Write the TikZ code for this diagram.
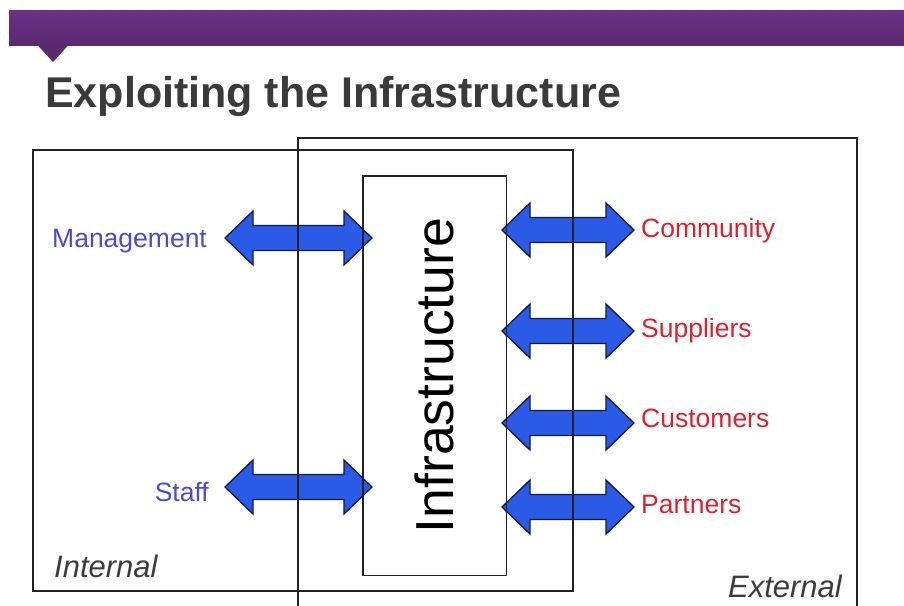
\documentclass[tikz,border=0pt]{standalone}
\usepackage{fontspec}
\setmainfont{Liberation Sans}
\definecolor{bartop}{HTML}{6B3088}
\definecolor{barbot}{HTML}{5A296F}
\definecolor{titlegray}{HTML}{3A3A3A}
\definecolor{arrowblue}{HTML}{2A5AE6}
\definecolor{arrowedge}{HTML}{101A48}
\definecolor{intblue}{HTML}{4A4AD6}
\definecolor{extred}{HTML}{E0202C}
\definecolor{framegray}{HTML}{222222}
\definecolor{cornergray}{HTML}{3C3C3C}
\tikzset{
  framebox/.style={draw=framegray, line width=1.4pt},
  biarrow/.style={fill=arrowblue, draw=arrowedge, line width=1.3pt, line join=miter},
  intlabel/.style={text=intblue, font=\fontsize{26.5}{30}\selectfont, inner sep=0pt},
  extlabel/.style={text=extred, font=\fontsize{26.5}{30}\selectfont, inner sep=0pt},
  cornerlabel/.style={text=cornergray, font=\itshape\fontsize{31}{34}\selectfont, inner sep=0pt},
}
% double-headed block arrow between x=#1 and x=#2 at height #3
\newcommand\twowayarrow[3]{%
  \draw[biarrow] (#1,#3) -- (#1+28,#3-27) -- (#1+28,#3-12.5) -- (#2-28,#3-12.5)
    -- (#2-28,#3-27) -- (#2,#3) -- (#2-28,#3+27) -- (#2-28,#3+12.5)
    -- (#1+28,#3+12.5) -- (#1+28,#3+27) -- cycle;}
\begin{document}
\begin{tikzpicture}[x=1pt,y=-1pt]
\useasboundingbox (0,0) rectangle (904,605);
\fill[white] (0,0) rectangle (904,605);
% header bar
\shade[top color=bartop, bottom color=barbot] (9,10) rectangle (904,45);
\fill[barbot] (37,44.5) -- (69,44.5) -- (53,62) -- cycle;
\node[anchor=base west, inner sep=0pt, text=titlegray, font=\bfseries\fontsize{43}{48}\selectfont] (title) at (45,107) {Exploiting the Infrastructure};
% infrastructure box (white ground)
\node[fill=white, minimum width=143pt, minimum height=399pt, inner sep=0pt] (infra) at (434.5,375.5) {};
\node[rotate=90, inner sep=0pt, font=\fontsize{53.5}{56}\selectfont] (infratext) at (infra.center) {Infrastructure};
% arrows
\twowayarrow{225}{372}{238}
\twowayarrow{225}{372}{487}
\twowayarrow{502}{634}{230}
\twowayarrow{502}{634}{331}
\twowayarrow{502}{634}{423}
\twowayarrow{502}{634}{507}
% frames drawn over the arrows
\draw[framebox] (298,138) rectangle (857,640);
\draw[framebox] (33,150) rectangle (573,591);
\draw[framebox] (infra.north west) rectangle (infra.south east);
% labels
\node[intlabel, anchor=base west] (mgmt) at (52,247) {Management};
\node[intlabel, anchor=base east] (staff) at (209,501) {Staff};
\node[extlabel, anchor=base west] (comm) at (641,237) {Community};
\node[extlabel, anchor=base west] (supp) at (641,337) {Suppliers};
\node[extlabel, anchor=base west] (cust) at (641,427) {Customers};
\node[extlabel, anchor=base west] (part) at (641,513) {Partners};
\node[cornerlabel, anchor=base west] (internal) at (54,577) {Internal};
\node[cornerlabel, anchor=base east] (external) at (842,597) {External};
\end{tikzpicture}
\end{document}
